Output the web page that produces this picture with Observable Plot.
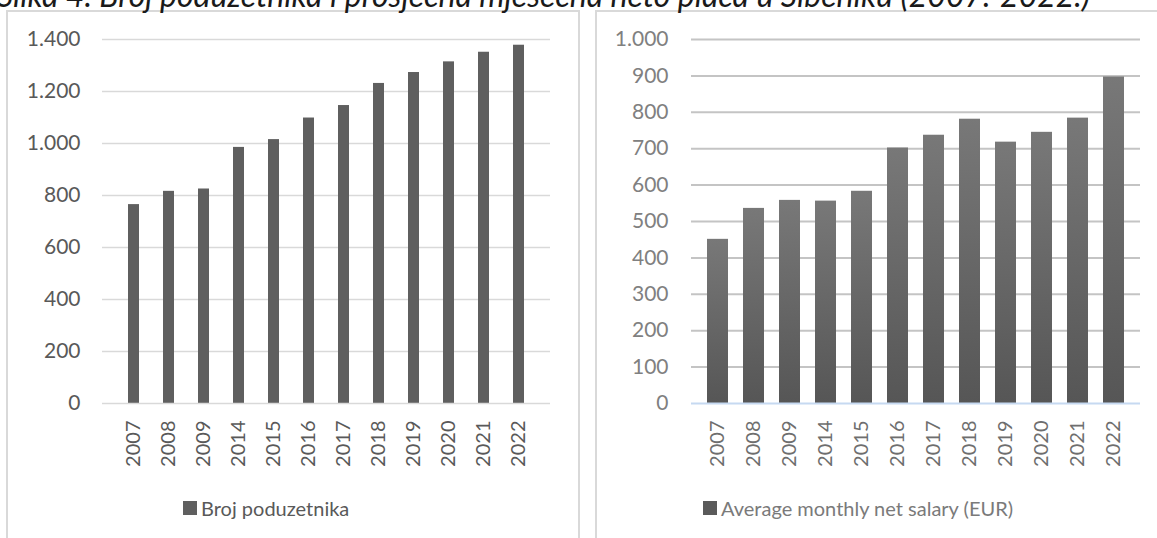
<!DOCTYPE html>
<html>
<head>
<meta charset="utf-8">
<script src="https://cdn.jsdelivr.net/npm/d3@7"></script>
<script src="https://cdn.jsdelivr.net/npm/@observablehq/plot@0.6"></script>
<style>
  body { margin: 0; background: #fff; width: 1157px; height: 538px; overflow: hidden; position: relative; font-family: Lato, "Open Sans", sans-serif; }
  .title { position: absolute; left: -3px; top: -21px; font-style: italic; font-size: 32px; line-height: 32px; white-space: nowrap; color: #1a1a1a; z-index: 3; }
  .panel { position: absolute; border: 2px solid #d9d9d9; background: #fff; box-sizing: border-box; }
  .chart { position: absolute; }
  .legend { position: absolute; display: flex; align-items: center; font-size: 20px; white-space: nowrap; }
  .legend .sw { width: 14px; height: 14px; background: #5f5f5f; margin-right: 4px; }
  #left [aria-label="y-axis tick label"] text { font-size: 21px; }
  #right [aria-label="y-axis tick label"] text { font-size: 21px; }
</style>
</head>
<body>
<div class="title">Slika 4. Broj poduzetnika i prosječna mjesečna neto plaća u Šibeniku (2007.-2022.)</div>
<div class="panel" style="left:6px; top:10px; width:574px; height:560px;"></div>
<div class="panel" style="left:595px; top:10px; width:600px; height:560px;"></div>
<div id="left" class="chart" style="left:7px; top:10px;"></div>
<div id="right" class="chart" style="left:596px; top:10px;"></div>
<div class="legend" style="left:183px; top:496px; color:#595959;"><div class="sw"></div>Broj poduzetnika</div>
<div class="legend" style="left:703px; top:496px; color:#7a7a7a;"><div class="sw" style="background:#5a5a5a"></div>Average monthly net salary (EUR)</div>
<script>
// ---- data ----
const years = ["2007", "2008", "2009", "2014", "2015", "2016", "2017", "2018", "2019", "2020", "2021", "2022"];
const entrepreneurs = [765, 816, 825, 985, 1015, 1098, 1146, 1231, 1273, 1314, 1351, 1378];
const salary = [451, 536, 558, 556, 583, 702, 737, 781, 718, 745, 784, 897];
const leftTicks = [0, 200, 400, 600, 800, 1000, 1200, 1400];
const rightTicks = [0, 100, 200, 300, 400, 500, 600, 700, 800, 900, 1000];

const leftData = years.map((y, i) => ({year: y, value: entrepreneurs[i]}));
const rightData = years.map((y, i) => ({year: y, value: salary[i]}));
const fmt = d => d3.format(",")(d).replace(/,/g, ".");

const leftPlot = Plot.plot({
  width: 572, height: 480,
  marginLeft: 95, marginRight: 29, marginTop: 29, marginBottom: 87,
  style: {fontFamily: "Lato, 'Open Sans', sans-serif", fontSize: "20px", background: "transparent"},
  x: {domain: years, padding: 0.68},
  y: {domain: [0, 1400]},
  marks: [
    Plot.ruleY(leftTicks.filter(d => d > 0), {stroke: "#d9d9d9", strokeWidth: 1.5}),
    Plot.barY(leftData, {x: "year", y: "value", fill: "#5f5f5f"}),
    Plot.ruleY([0], {stroke: "#d9d9d9", strokeWidth: 1.5}),
    Plot.axisY({ticks: leftTicks, tickSize: 0, tickPadding: 22, tickFormat: fmt, color: "#595959", label: null}),
    Plot.axisX({tickRotate: -90, tickSize: 0, tickPadding: 17, color: "#595959", label: null})
  ]
});
document.getElementById("left").appendChild(leftPlot);

const gradientDefs = () => {
  const ns = "http://www.w3.org/2000/svg";
  const defs = document.createElementNS(ns, "defs");
  defs.innerHTML = '<linearGradient id="barGrad" x1="0" y1="0" x2="0" y2="1">' +
    '<stop offset="0" stop-color="#787878"/><stop offset="1" stop-color="#565656"/></linearGradient>';
  return defs;
};

const rightPlot = Plot.plot({
  width: 561, height: 480,
  marginLeft: 95, marginRight: 17, marginTop: 29, marginBottom: 87,
  style: {fontFamily: "Lato, 'Open Sans', sans-serif", fontSize: "20px", background: "transparent"},
  x: {domain: years, padding: 0.41},
  y: {domain: [0, 1000]},
  marks: [
    gradientDefs,
    Plot.ruleY(rightTicks.filter(d => d > 0), {stroke: "#c4c4c4", strokeWidth: 2}),
    Plot.barY(rightData, {x: "year", y: "value", fill: "url(#barGrad)"}),
    Plot.ruleY([0], {stroke: "#c6d9f1", strokeWidth: 2}),
    Plot.axisY({ticks: rightTicks, tickSize: 0, tickPadding: 23, tickFormat: fmt, color: "#808080", label: null}),
    Plot.axisX({tickRotate: -90, tickSize: 0, tickPadding: 17, color: "#6e6e6e", label: null})
  ]
});
document.getElementById("right").appendChild(rightPlot);
</script>
</body>
</html>
